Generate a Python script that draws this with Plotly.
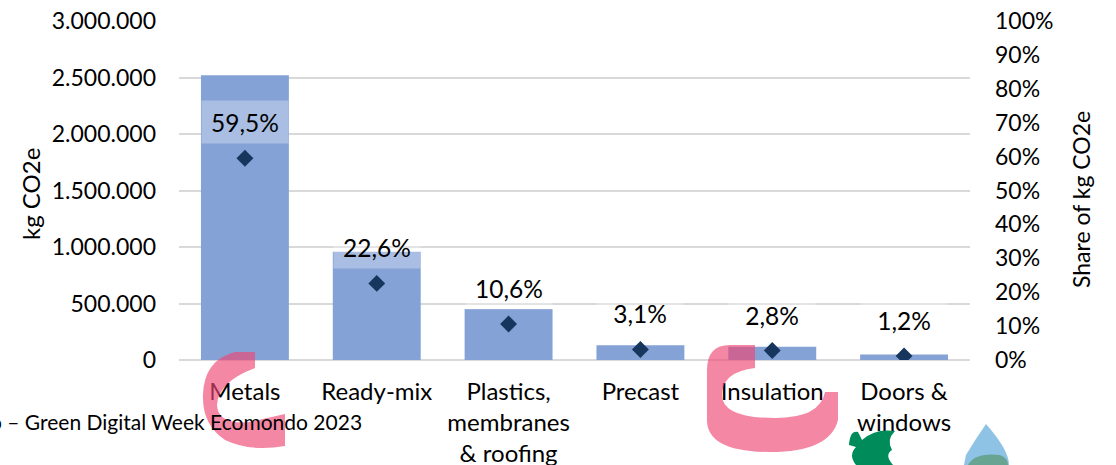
import plotly.graph_objects as go

# Embodied carbon by material group
categories = ["Metals", "Ready-mix", "Plastics,<br>membranes<br>& roofing",
              "Precast", "Insulation", "Doors &<br>windows"]
kg_co2e = [2520000, 958000, 452000, 130000, 118000, 48000]
share = [0.595, 0.226, 0.106, 0.031, 0.028, 0.012]

left_ticks = [0, 500000, 1000000, 1500000, 2000000, 2500000, 3000000]
right_ticks = [i / 10 for i in range(11)]

W, H = 1116, 465
L, R, T, B = 179, 146, 21, 105
PW, PH = W - L - R, H - T - B
FONT = "Lato"
SIZE = 23


def px(x):
    return (x - L) / PW


def py(y):
    return (H - B - y) / PH


def path(points):
    # points: list of (command, [(x, y), ...]) in pixel space
    out = []
    for cmd, pts in points:
        coords = " ".join(f"{px(x):.4f},{py(y):.4f}" for x, y in pts)
        out.append(f"{cmd}{coords}")
    return " ".join(out) + " Z"


fig = go.Figure()

fig.add_trace(go.Bar(
    x=categories, y=kg_co2e, yaxis="y",
    marker=dict(color="rgb(133,162,214)", line=dict(width=0)),
    hoverinfo="skip",
))

fig.add_trace(go.Scatter(
    x=categories, y=share, yaxis="y2", mode="markers",
    marker=dict(symbol="diamond", size=13, color="#17365D"),
    hoverinfo="skip",
))

annotations = []
for c, s in zip(categories, share):
    annotations.append(dict(
        x=c, y=s, xref="x", yref="y2", yshift=36,
        text=f"{s * 100:.1f}%".replace(".", ","),
        showarrow=False, font=dict(family=FONT, size=24.5, color="black"),
        bgcolor="rgba(255,255,255,0.3)", width=84, height=40,
    ))

# axis titles
annotations.append(dict(
    x=px(30), y=py(194), xref="paper", yref="paper", text="kg CO2e",
    textangle=-90, showarrow=False, xanchor="center", yanchor="middle",
    font=dict(family=FONT, size=24, color="black"),
))
annotations.append(dict(
    x=px(1081), y=py(200), xref="paper", yref="paper", text="Share of kg CO2e",
    textangle=-90, showarrow=False, xanchor="center", yanchor="middle",
    font=dict(family=FONT, size=SIZE, color="black"),
))
# footer caption
annotations.append(dict(
    x=px(364), y=py(421), xref="paper", yref="paper",
    text="o – Green Digital Week Ecomondo 2023",
    showarrow=False, xanchor="right", yanchor="middle",
    font=dict(family=FONT, size=21, color="black"),
))

pink = "rgb(238,70,115)"
shapes = [
    dict(type="path", xref="paper", yref="paper", layer="above",
         fillcolor=pink, opacity=0.65, line=dict(width=0),
         path=path([
             ("M", [(235, 352)]), ("L", [(255, 352)]), ("L", [(255, 368)]),
             ("Q", [(218, 382), (217, 405)]),
             ("Q", [(218, 425), (250, 422)]),
             ("L", [(285, 414)]), ("L", [(285, 446)]),
             ("Q", [(250, 452), (225, 440)]),
             ("Q", [(202, 425), (203, 395)]),
             ("Q", [(204, 360), (235, 352)]),
         ])),
    dict(type="path", xref="paper", yref="paper", layer="above",
         fillcolor=pink, opacity=0.65, line=dict(width=0),
         path=path([
             ("M", [(755, 345)]), ("L", [(755, 368)]),
             ("Q", [(722, 372), (722, 395)]),
             ("Q", [(722, 418), (775, 418)]),
             ("Q", [(820, 418), (825, 392)]),
             ("L", [(838, 392)]), ("L", [(838, 420)]),
             ("Q", [(830, 452), (770, 452)]),
             ("Q", [(707, 452), (707, 420)]),
             ("L", [(707, 370)]),
             ("Q", [(707, 345), (730, 345)]),
         ])),
    # green bird emblem
    dict(type="path", xref="paper", yref="paper", layer="above",
         fillcolor="#008C5A", line=dict(width=0),
         path=path([
             ("M", [(849, 445)]),
             ("Q", [(850, 430), (858, 432)]),
             ("L", [(862, 440)]),
             ("Q", [(875, 428), (895, 431)]),
             ("Q", [(886, 440), (892, 450)]),
             ("Q", [(884, 455), (893, 465)]),
             ("L", [(856, 465)]),
             ("Q", [(848, 455), (856, 447)]),
         ])),
    # water drop emblem
    dict(type="path", xref="paper", yref="paper", layer="above",
         fillcolor="#8EC3E6", line=dict(width=0),
         path=path([
             ("M", [(986, 424)]),
             ("Q", [(975, 440), (966, 455)]),
             ("L", [(964, 465)]),
             ("L", [(1009, 465)]),
             ("Q", [(1009, 450), (986, 424)]),
         ])),
    dict(type="path", xref="paper", yref="paper", layer="above",
         fillcolor="#4E8F5A", opacity=0.6, line=dict(width=0),
         path=path([
             ("M", [(968, 465)]),
             ("Q", [(975, 452), (1000, 455)]),
             ("Q", [(1008, 458), (1008, 465)]),
         ])),
]

fig.update_layout(
    width=W, height=H,
    margin=dict(l=L, r=R, t=T, b=B, autoexpand=False),
    paper_bgcolor="white", plot_bgcolor="white",
    separators=",.",
    showlegend=False,
    bargap=0.333,
    font=dict(family=FONT, size=SIZE, color="black"),
    xaxis=dict(
        showgrid=False, showline=False, ticks="", zeroline=False,
        tickfont=dict(family=FONT, size=24, color="black"),
        ticklabelstandoff=15,
    ),
    yaxis=dict(
        range=[0, 3000000], tickvals=left_ticks, tickformat=",d",
        showgrid=True, gridcolor="#D9D9D9", gridwidth=1.5,
        zeroline=True, zerolinecolor="#D9D9D9", zerolinewidth=1.5,
        showline=False, ticks="", ticklabelstandoff=22,
        tickfont=dict(family=FONT, size=SIZE, color="black"),
    ),
    yaxis2=dict(
        range=[0, 1], tickvals=right_ticks, tickformat=".0%",
        overlaying="y", side="right", showgrid=False, zeroline=False,
        showline=False, ticks="", ticklabelstandoff=24,
        tickfont=dict(family=FONT, size=SIZE, color="black"),
    ),
    annotations=annotations,
    shapes=shapes,
)

fig.write_html("out.html")
